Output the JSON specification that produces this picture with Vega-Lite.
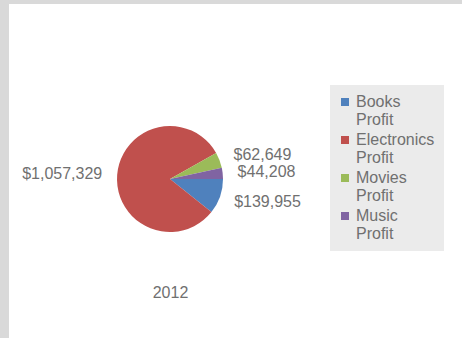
{
  "$schema": "https://vega.github.io/schema/vega-lite/v6.json",
  "width": 453,
  "height": 334,
  "autosize": {"type": "none"},
  "padding": {"left": 9, "top": 4, "right": 0, "bottom": 0},
  "background": "#d9d9d9",
  "config": {
    "view": {"fill": "white", "stroke": null},
    "font": "Liberation Sans"
  },
  "data": {
    "values": [
      {"year": "2012", "category": "Books Profit", "profit": 139955},
      {"year": "2012", "category": "Electronics Profit", "profit": 1057329},
      {"year": "2012", "category": "Movies Profit", "profit": 62649},
      {"year": "2012", "category": "Music Profit", "profit": 44208}
    ]
  },
  "encoding": {
    "x": {
      "field": "year",
      "type": "nominal",
      "scale": {"align": 0.3554},
      "axis": {
        "title": null,
        "domain": false,
        "ticks": false,
        "grid": false,
        "labelAngle": 0,
        "labelFontSize": 16,
        "labelColor": "#707070",
        "labelPadding": 0,
        "offset": -54
      }
    },
    "y": {
      "field": "year",
      "type": "nominal",
      "scale": {"align": 0.524},
      "axis": null
    },
    "theta": {
      "field": "profit",
      "type": "quantitative",
      "stack": true,
      "scale": {"range": [1.5708, 7.854]}
    },
    "order": {"field": "category", "type": "nominal", "sort": "ascending"}
  },
  "layer": [
    {
      "mark": {"type": "arc", "outerRadius": 53},
      "encoding": {
        "color": {
          "field": "category",
          "type": "nominal",
          "scale": {"range": ["#4F81BD", "#C0504D", "#9BBB59", "#8064A2"]},
          "legend": {
            "title": null,
            "orient": "none",
            "legendX": 321,
            "legendY": 81,
            "fillColor": "#ebebeb",
            "padding": 9,
            "symbolType": "square",
            "symbolSize": 64,
            "symbolStrokeWidth": 0,
            "symbolOffset": -2,
            "labelFontSize": 16,
            "labelColor": "#707070",
            "labelExpr": "split(datum.label, ' ')",
            "rowPadding": 4,
            "labelOffset": 3
          }
        }
      }
    },
    {
      "mark": {
        "type": "text",
        "radius": 68,
        "fontSize": 16,
        "color": "#707070",
        "baseline": "middle",
        "align": {"expr": "datum.category == 'Electronics Profit' ? 'right' : 'left'"}
      },
      "encoding": {
        "text": {"field": "profit", "type": "quantitative", "format": "$,.0f"},
        "detail": {"field": "category", "type": "nominal"}
      }
    }
  ]
}
